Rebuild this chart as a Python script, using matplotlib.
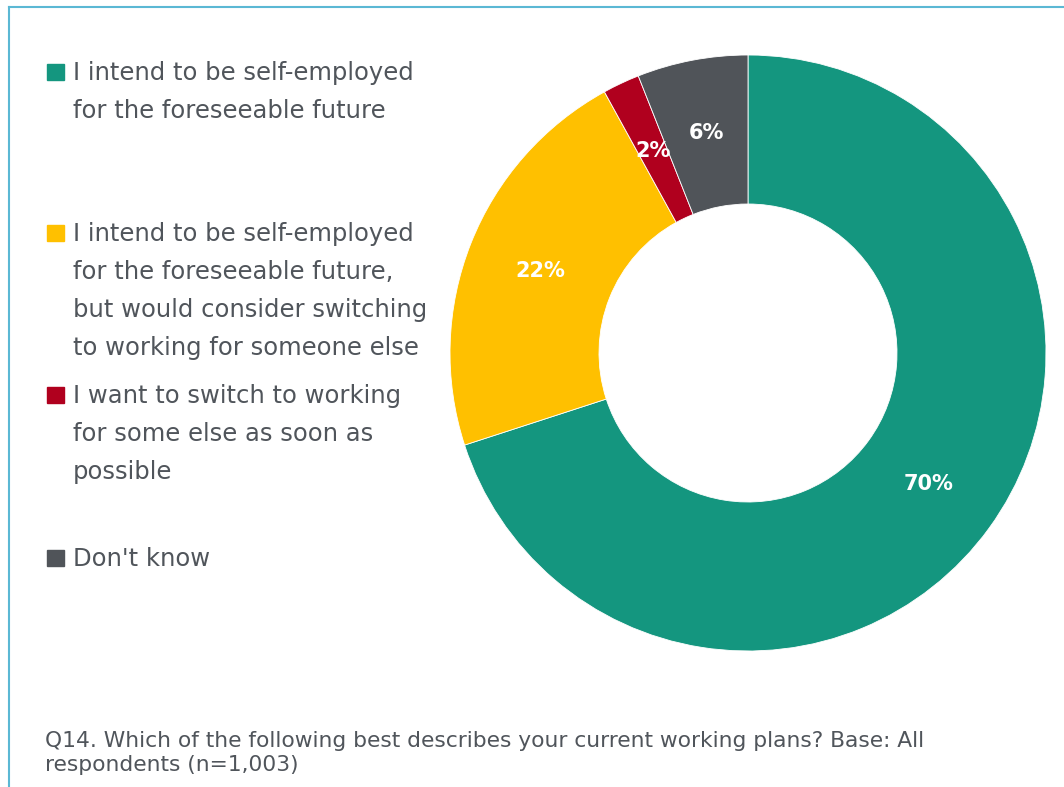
import matplotlib.pyplot as plt
from matplotlib.patches import Rectangle

# datos del gráfico
categorias = [
    "I intend to be self-employed\nfor the foreseeable future",
    "I intend to be self-employed\nfor the foreseeable future,\nbut would consider switching\nto working for someone else",
    "I want to switch to working\nfor some else as soon as\npossible",
    "Don't know",
]
valores = [70, 22, 2, 6]
colores = ["#14967f", "#ffc000", "#b0001e", "#505459"]
nota = "Q14. Which of the following best describes your current working plans? Base: All\nrespondents (n=1,003)"

W, H = 1064, 787
fig = plt.figure(figsize=(W / 100, H / 100), dpi=100)
gris = "#50555b"

# marco azul (solo izquierda y arriba se ven)
fig.add_artist(plt.Line2D([9 / W, 9 / W], [0, 1 - 7 / H], color="#5bb8d4", lw=1.5))
fig.add_artist(plt.Line2D([9 / W, 1], [1 - 7 / H, 1 - 7 / H], color="#5bb8d4", lw=1.5))

# donut
cx, cy, r = 748, 353, 298
ax = fig.add_axes([(cx - r) / W, (H - cy - r) / H, 2 * r / W, 2 * r / H])
wedges, textos, pcts = ax.pie(
    valores, colors=colores, startangle=90, counterclock=False,
    wedgeprops=dict(width=0.5, edgecolor="white", linewidth=0.6),
    autopct=lambda p: f"{p:.0f}%", pctdistance=0.75,
    textprops=dict(color="white", fontsize=15, fontweight="bold"),
)
ax.set_xlim(-1, 1)
ax.set_ylim(-1, 1)
ax.axis("off")

# leyenda manual
y_items = [72, 233, 395, 558]
for y, txt, col in zip(y_items, categorias, colores):
    fig.add_artist(Rectangle((47 / W, 1 - (y + 8) / H), 17 / W, 16 / H,
                             transform=fig.transFigure, color=col))
    fig.text(73 / W, 1 - (y - 11) / H, txt, fontsize=17.5, color=gris,
             va="top", ha="left", linespacing=1.74)

fig.text(45 / W, 1 - 731 / H, nota, fontsize=15.7, color=gris, va="top",
         ha="left", linespacing=1.22)

fig.savefig("out.png", dpi=100)
